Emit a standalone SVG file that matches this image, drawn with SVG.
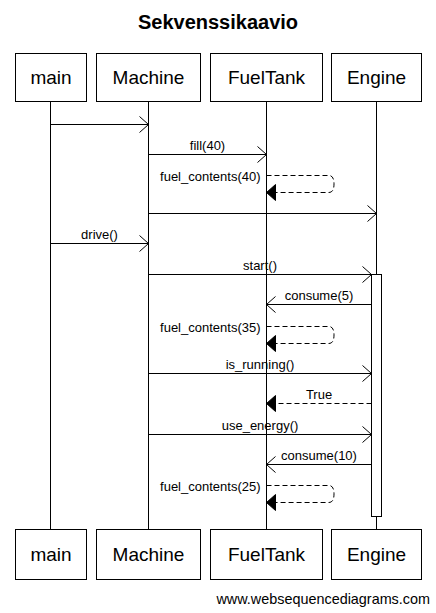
<svg xmlns="http://www.w3.org/2000/svg" width="436" height="613" viewBox="0 0 436 613">
<style>
text{font-family:"Liberation Sans",Arial,sans-serif;fill:#000}
.title{font-size:20px;font-weight:bold}
.actor rect{fill:#fff;stroke:#000;stroke-width:1}
.actor text{font-size:19px;text-anchor:middle}
.life{stroke:#000;stroke-width:1;fill:none}
.msg{stroke:#000;stroke-width:1;fill:none;marker-end:url(#open)}
.ret{stroke:#000;stroke-width:1;fill:none;stroke-dasharray:5,3;marker-end:url(#solid)}
.lbl{font-size:13px;text-anchor:middle}
.lblr{font-size:13px;text-anchor:end}
.act{fill:#fff;stroke:#000;stroke-width:1}
.foot{font-size:14.4px;text-anchor:end}
</style>
<defs>
<marker id="open" markerUnits="userSpaceOnUse" markerWidth="12" markerHeight="20" viewBox="-1 -1 12 18" refX="9" refY="8" orient="auto">
<path d="M0,0 L9,8 L0,16" fill="none" stroke="#000" stroke-width="1"/>
</marker>
<marker id="solid" markerUnits="userSpaceOnUse" markerWidth="12" markerHeight="20" viewBox="-1 -1 12 18" refX="9" refY="8" orient="auto">
<path d="M0,0 L9,8 L0,16 Z" fill="#000" stroke="#000" stroke-width="1"/>
</marker>
</defs>
<rect width="436" height="613" fill="#fff"/>
<text class="title" x="218" y="29" text-anchor="middle">Sekvenssikaavio</text>

<g id="lifelines">
<line class="life" x1="50.5" y1="101.5" x2="50.5" y2="529.5"/>
<line class="life" x1="148.5" y1="101.5" x2="148.5" y2="529.5"/>
<line class="life" x1="266.5" y1="101.5" x2="266.5" y2="529.5"/>
<line class="life" x1="376.5" y1="101.5" x2="376.5" y2="529.5"/>
</g>

<g id="main" class="actor">
<rect x="15.5" y="53.5" width="71" height="48"/>
<text x="51" y="84">main</text>
<rect x="15.5" y="529.5" width="71" height="50"/>
<text x="51" y="561">main</text>
</g>
<g id="Machine" class="actor">
<rect x="96.5" y="53.5" width="104" height="48"/>
<text x="148.5" y="84">Machine</text>
<rect x="96.5" y="529.5" width="104" height="50"/>
<text x="148.5" y="561">Machine</text>
</g>
<g id="FuelTank" class="actor">
<rect x="210.5" y="53.5" width="112" height="48"/>
<text x="266.5" y="84">FuelTank</text>
<rect x="210.5" y="529.5" width="112" height="50"/>
<text x="266.5" y="561">FuelTank</text>
</g>
<g id="Engine" class="actor">
<rect x="331.5" y="53.5" width="90" height="48"/>
<text x="376.5" y="84">Engine</text>
<rect x="331.5" y="529.5" width="90" height="50"/>
<text x="376.5" y="561">Engine</text>
</g>

<g id="activation">
<rect class="act" x="371.5" y="274.5" width="10" height="242"/>
</g>

<g id="connectors">
<line class="msg" x1="50.5" y1="124.5" x2="148.5" y2="124.5"/>

<line class="msg" x1="148.5" y1="154.5" x2="266.5" y2="154.5"/>
<text class="lbl" x="207.5" y="150">fill(40)</text>

<path class="ret" d="M266.5,175.5 H329 Q334,175.5 334,184 Q334,192.5 329,192.5 H266.5"/>
<text class="lblr" x="260.5" y="181">fuel_contents(40)</text>

<line class="msg" x1="148.5" y1="213.5" x2="376.5" y2="213.5"/>

<line class="msg" x1="50.5" y1="243.5" x2="148.5" y2="243.5"/>
<text class="lbl" x="99.5" y="239">drive()</text>

<line class="msg" x1="148.5" y1="274.5" x2="371.5" y2="274.5"/>
<text class="lbl" x="260" y="270">start()</text>

<line class="msg" x1="371.5" y1="304.5" x2="266.5" y2="304.5"/>
<text class="lbl" x="319" y="300">consume(5)</text>

<path class="ret" d="M266.5,326.5 H329 Q334,326.5 334,335 Q334,343.5 329,343.5 H266.5"/>
<text class="lblr" x="260.5" y="332">fuel_contents(35)</text>

<line class="msg" x1="148.5" y1="373.5" x2="371.5" y2="373.5"/>
<text class="lbl" x="260" y="369">is_running()</text>

<line class="ret" x1="371.5" y1="403.5" x2="266.5" y2="403.5"/>
<text class="lbl" x="319" y="399">True</text>

<line class="msg" x1="148.5" y1="434.5" x2="371.5" y2="434.5"/>
<text class="lbl" x="260" y="430">use_energy()</text>

<line class="msg" x1="371.5" y1="464.5" x2="266.5" y2="464.5"/>
<text class="lbl" x="319" y="460">consume(10)</text>

<path class="ret" d="M266.5,485.5 H329 Q334,485.5 334,494 Q334,502.5 329,502.5 H266.5"/>
<text class="lblr" x="260.5" y="491">fuel_contents(25)</text>
</g>

<text class="foot" x="430" y="604">www.websequencediagrams.com</text>
</svg>
